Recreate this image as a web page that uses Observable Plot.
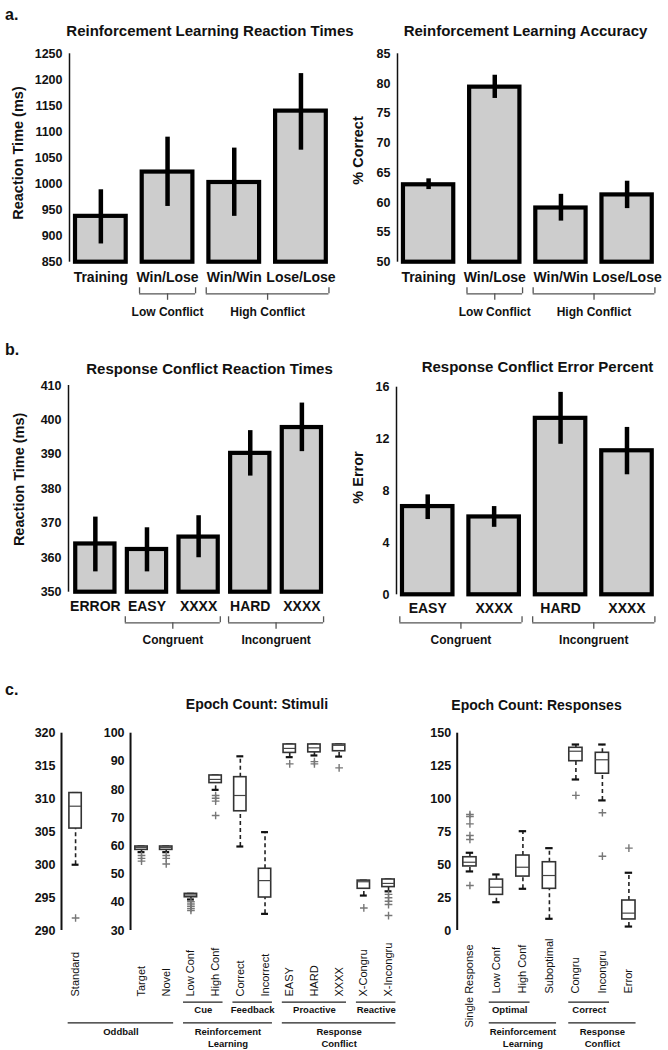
<!DOCTYPE html>
<html><head><meta charset="utf-8">
<script src="https://cdn.jsdelivr.net/npm/d3@7"></script>
<script src="https://cdn.jsdelivr.net/npm/@observablehq/plot@0.6"></script>
<style>
body{margin:0;background:#fff;}
#wrap{position:relative;width:668px;height:1050px;overflow:hidden;font-family:"Liberation Sans",Arial,sans-serif;color:#111;}
#wrap svg{position:absolute;left:0;top:0;}
.t{position:absolute;font-weight:bold;white-space:nowrap;transform:translate(-50%,-50%);line-height:1;}
.l{position:absolute;font-weight:bold;white-space:nowrap;transform:translate(0,-50%);line-height:1;font-size:16px;}
</style></head><body><div id="wrap"></div>
<script>
// ---------- DATA ----------
// a. Reinforcement learning
const rlCats = ["Training", "Win/Lose", "Win/Win", "Lose/Lose"];
const rtMean = [938, 1023, 1003, 1140];
const rtLo = [885, 957, 938, 1065];
const rtHi = [989, 1090, 1069, 1212];
const rtTicks = [850, 900, 950, 1000, 1050, 1100, 1150, 1200, 1250];
const accMean = [63.0, 79.4, 59.1, 61.3];
const accLo = [62.2, 77.5, 56.9, 59.0];
const accHi = [64.0, 81.4, 61.4, 63.6];
const accTicks = [50, 55, 60, 65, 70, 75, 80, 85];
const rlGroupNames = ["Low Conflict", "High Conflict"];
const rlGroupFirst = ["Win/Lose", "Win/Win"];
const rlGroupLast = ["Win/Lose", "Lose/Lose"];

// b. Response conflict
const rcCats = ["ERROR", "EASY", "XXXX", "HARD", "XXXX"];
const rcMean = [364.0, 362.4, 366.0, 390.3, 397.8];
const rcLo = [355.9, 355.9, 360.0, 383.7, 390.8];
const rcHi = [371.8, 368.7, 372.2, 396.9, 404.9];
const rcTicks = [350, 360, 370, 380, 390, 400, 410];
const rcGroupFirst = [1, 3];
const rcGroupLast = [2, 4];
const epCats = ["EASY", "XXXX", "HARD", "XXXX"];
const epMean = [6.8, 6.0, 13.6, 11.1];
const epLo = [5.8, 5.2, 11.6, 9.25];
const epHi = [7.7, 6.8, 15.6, 12.9];
const epTicks = [0, 4, 8, 12, 16];
const epGroupFirst = [0, 2];
const epGroupLast = [1, 3];
const confGroupNames = ["Congruent", "Incongruent"];

// c. Epoch counts: stimuli (Standard on its own 290-320 axis)
const stimCats = ["Standard", "Target", "Novel", "Low Conf", "High Conf", "Correct", "Incorrect", "EASY", "HARD", "XXXX", "X-Congru", "X-Incongru"];
const stimQ1  = [305.5, 58.6, 58.6, 41.8, 82.3, 72.3, 41.7, 93.0, 93.2, 93.6, 44.8, 45.4];
const stimMed = [308.9, 59.5, 59.5, 42.6, 83.6, 77.9, 47.7, 94.6, 94.8, 95.7, 47.3, 46.7];
const stimQ3  = [310.9, 59.8, 59.8, 43.0, 85.0, 84.4, 51.9, 96.0, 96.0, 96.0, 47.7, 48.1];
const stimLo  = [300.0, 57.8, 57.8, 41.0, 79.9, 59.8, 35.9, 91.5, 92.1, 91.7, 42.4, 43.9];
const stimHi  = [310.9, 59.8, 59.8, 43.0, 85.0, 91.8, 64.9, 96.0, 96.0, 96.0, 47.7, 48.1];
const stimOut = [[291.9], [56.6, 55.6, 54.6], [56.6, 55.6, 53.6], [40.2, 39.4, 38.6, 37.8, 37.1], [77.9, 76.9, 75.9, 70.8], [], [], [89.1], [89.9, 89.1], [87.7], [38.0], [42.8, 41.6, 40.4, 39.2, 35.3]];
const stdTicks = [290, 295, 300, 305, 310, 315, 320];
const stimTicks = [30, 40, 50, 60, 70, 80, 90, 100];
const stimG1Names = ["Cue", "Feedback", "Proactive", "Reactive"];
const stimG1First = ["Low Conf", "Correct", "EASY", "X-Congru"];
const stimG1Last = ["High Conf", "Incorrect", "XXXX", "X-Incongru"];
const stimG2Names = ["Oddball", "Reinforcement\nLearning", "Response\nConflict"];
const stimG2First = ["Standard", "Low Conf", "EASY"];
const stimG2Last = ["Novel", "Incorrect", "X-Incongru"];

// c. Epoch counts: responses
const respCats = ["Single Response", "Low Conf", "High Conf", "Suboptimal", "Congru", "Incongru", "Error"];
const respQ1  = [48.7, 27.1, 41.0, 31.7, 128.7, 119.2, 8.4];
const respMed = [51.9, 32.9, 48.1, 41.8, 136.3, 129.8, 13.2];
const respQ3  = [55.7, 38.7, 57.0, 51.9, 138.9, 135.1, 22.8];
const respLo  = [44.9, 21.5, 31.7, 8.9, 114.8, 98.9, 3.0];
const respHi  = [59.1, 42.6, 75.5, 62.6, 141.4, 141.4, 43.9];
const respOut = [[88.2, 86.7, 81.1, 72.2, 69.2, 34.2], [], [], [], [102.7], [89.5, 56.5], [62.6]];
const respTicks = [0, 25, 50, 75, 100, 125, 150];
const respG1Names = ["Optimal", "Correct"];
const respG1First = ["Low Conf", "Congru"];
const respG1Last = ["High Conf", "Incongru"];
const respG2Names = ["Reinforcement\nLearning", "Response\nConflict"];
const respG2First = ["Low Conf", "Congru"];
const respG2Last = ["Suboptimal", "Error"];

// ---------- LAYOUT ----------
const W = 668, H = 1050;
const FONT = '"Liberation Sans", Arial, sans-serif';
const wrap = document.getElementById("wrap");
const baseStyle = {background: "transparent", overflow: "visible", fontFamily: FONT, color: "#111"};

function html(cls, text, x, y, size) {
  const d = document.createElement("div");
  d.className = cls; d.textContent = text;
  d.style.left = x + "px"; d.style.top = y + "px";
  if (size) d.style.fontSize = size + "px";
  wrap.appendChild(d);
}

function barPanel(o) {
  const n = o.cats.length;
  const idx = d3.range(n);
  const rows = idx.map(i => ({i, m: o.mean[i], lo: o.lo[i], hi: o.hi[i]}));
  const ymin = o.ticks[0], ymax = o.ticks[o.ticks.length - 1];
  const groups = o.gNames.map((g, k) => ({g, a: o.gFirst[k] - 0.42, b: o.gLast[k] + 0.42}));
  const ends = groups.flatMap(d => [d.a, d.b]);
  const bs = {stroke: "#555", strokeWidth: 1.3};
  return Plot.plot({
    width: W, height: H,
    marginLeft: o.left, marginRight: W - o.right, marginTop: o.top, marginBottom: H - o.bottom,
    x: {domain: [-o.padL, n - 0.5]},
    y: {domain: [ymin, ymax]},
    style: baseStyle,
    marks: [
      Plot.rect(rows, {x1: d => d.i - 0.38, x2: d => d.i + 0.38, y1: ymin, y2: "m", fill: "#cdcdcd", stroke: "#000", strokeWidth: 4.2}),
      Plot.ruleX(rows, {x: "i", y1: "lo", y2: "hi", stroke: "#000", strokeWidth: 4.5}),
      Plot.ruleX([-o.padL], {y1: ymin, y2: ymax, stroke: "#111", strokeWidth: 1.5}),
      Plot.axisY({ticks: o.ticks, tickFormat: d => String(d), tickSize: 0, tickPadding: 7, fontSize: 12.5, fontWeight: "bold", label: null}),
      Plot.axisX({ticks: idx, tickFormat: i => o.cats[i], tickSize: 0, tickPadding: o.xPad, fontSize: 14, fontWeight: "bold", label: null}),
      Plot.text([o.ylabel], {frameAnchor: "left", textAnchor: "middle", rotate: -90, dx: o.yLabDx, dy: o.yLabDy, fontSize: 14.5, fontWeight: "bold"}),
      Plot.ruleY(groups, {y: () => ymin, x1: "a", x2: "b", dy: o.bY, ...bs}),
      Plot.ruleX(ends, {x: d => d, y1: ymin, y2: ymin, insetBottom: 6, dy: o.bY, ...bs}),
      Plot.ruleX(groups, {x: d => (d.a + d.b) / 2, y1: ymin, y2: ymin, insetTop: 6.5, dy: o.bY, ...bs}),
      Plot.text(groups, {x: d => (d.a + d.b) / 2, y: () => ymin, text: "g", dy: o.bText, fontSize: 12, fontWeight: "bold"})
    ]
  });
}

function boxPanel(o) {
  const f = o.f;
  const rows = o.cats.map((c, i) => ({x: o.xs[i], q1: f(o.q1[i], i), med: f(o.med[i], i), q3: f(o.q3[i], i), lo: f(o.lo[i], i), hi: f(o.hi[i], i)}));
  const outRows = o.cats.flatMap((c, i) => o.outs[i].map(v => ({x: o.xs[i], v: f(v, i)})));
  const hw = 0.25, cw = 0.14;
  const ymin = o.ymin, ymax = o.ymax;
  const pos = name => o.xs[o.cats.indexOf(name)];
  const mk = g => g.names.map((name, k) => ({name, a: pos(g.first[k]) - o.ext, b: pos(g.last[k]) + o.ext}));
  const g1 = mk(o.g1), g2 = mk(o.g2);
  const labels = o.cats.map((c, i) => ({c, x: o.xs[i]}));
  const lab = {x: "x", y: () => ymin, text: "c", rotate: -90, textAnchor: "start", fontSize: 11};
  const axisMarks = o.axes.flatMap(a => [
    Plot.ruleX([a.x], {y1: ymin, y2: ymax, stroke: "#111", strokeWidth: 2}),
    Plot.text(a.ticks, {x: a.x, y: a.map, text: d => String(d), textAnchor: "end", dx: -6, fontSize: 12.5, fontWeight: "bold"})
  ]);
  return Plot.plot({
    width: W, height: H,
    marginLeft: o.left, marginRight: W - o.right, marginTop: o.top, marginBottom: H - o.bottom,
    x: {domain: o.domain, axis: null},
    y: {domain: [ymin, ymax], axis: null},
    style: baseStyle,
    marks: [
      ...axisMarks,
      Plot.ruleX(rows.filter(d => d.hi > d.q3), {x: "x", y1: "q3", y2: "hi", stroke: "#222", strokeWidth: 1.6, strokeDasharray: "4,3"}),
      Plot.ruleX(rows.filter(d => d.lo < d.q1), {x: "x", y1: "lo", y2: "q1", stroke: "#222", strokeWidth: 1.6, strokeDasharray: "4,3"}),
      Plot.ruleY(rows, {y: "hi", x1: d => d.x - cw, x2: d => d.x + cw, stroke: "#111", strokeWidth: 2.2}),
      Plot.ruleY(rows, {y: "lo", x1: d => d.x - cw, x2: d => d.x + cw, stroke: "#111", strokeWidth: 2.2}),
      Plot.rect(rows, {x1: d => d.x - hw, x2: d => d.x + hw, y1: "q1", y2: "q3", fill: "white", stroke: "#333", strokeWidth: 1.6}),
      Plot.ruleY(rows, {y: "med", x1: d => d.x - hw, x2: d => d.x + hw, stroke: "#444", strokeWidth: 1.2}),
      Plot.dot(outRows, {x: "x", y: "v", symbol: "plus", r: 2.6, stroke: "#777", strokeWidth: 1.4}),
      Plot.text(labels, {...lab, filter: d => d.c !== "Single Response", dy: o.labDy}),
      Plot.text(labels, {...lab, filter: d => d.c === "Single Response", dy: o.labDyLong}),
      Plot.ruleY(g1, {y: () => ymin, x1: "a", x2: "b", dy: 71.7, stroke: "#222", strokeWidth: 1.2}),
      Plot.text(g1, {x: d => (d.a + d.b) / 2, y: () => ymin, text: "name", dy: 79, fontSize: 9.5, fontWeight: "bold"}),
      Plot.ruleY(g2, {y: () => ymin, x1: "a", x2: "b", dy: 92.3, stroke: "#222", strokeWidth: 1.2}),
      Plot.text(g2, {x: d => (d.a + d.b) / 2, y: () => ymin, text: "name", dy: 95.5, lineAnchor: "top", lineHeight: 1.3, fontSize: 9.5, fontWeight: "bold"})
    ]
  });
}

// ---------- PANELS ----------
const add = svg => wrap.appendChild(svg);

add(barPanel({cats: rlCats, mean: rtMean, lo: rtLo, hi: rtHi, ticks: rtTicks,
  left: 69, right: 333.8, top: 53.3, bottom: 261.7, padL: 0.47, xPad: 10,
  ylabel: "Reaction Time (ms)", yLabDx: -51, yLabDy: -5,
  gNames: rlGroupNames, gFirst: rlGroupFirst.map(c => rlCats.indexOf(c)), gLast: rlGroupLast.map(c => rlCats.indexOf(c)),
  bY: 31.6, bText: 50.3}));

add(barPanel({cats: rlCats, mean: accMean, lo: accLo, hi: accHi, ticks: accTicks,
  left: 397, right: 659.7, top: 53.3, bottom: 261.7, padL: 0.47, xPad: 10,
  ylabel: "% Correct", yLabDx: -39, yLabDy: -7.5,
  gNames: rlGroupNames, gFirst: rlGroupFirst.map(c => rlCats.indexOf(c)), gLast: rlGroupLast.map(c => rlCats.indexOf(c)),
  bY: 31.6, bText: 50.3}));

add(barPanel({cats: rcCats, mean: rcMean, lo: rcLo, hi: rcHi, ticks: rcTicks,
  left: 68, right: 327.2, top: 385, bottom: 591.7, padL: 0.52, xPad: 9.3,
  ylabel: "Reaction Time (ms)", yLabDx: -49, yLabDy: -9.5,
  gNames: confGroupNames, gFirst: rcGroupFirst, gLast: rcGroupLast,
  bY: 30.6, bText: 48.3}));

add(barPanel({cats: epCats, mean: epMean, lo: epLo, hi: epHi, ticks: epTicks,
  left: 396, right: 659.7, top: 386.7, bottom: 594.3, padL: 0.47, xPad: 8.2,
  ylabel: "% Error", yLabDx: -38, yLabDy: -13.5,
  gNames: confGroupNames, gFirst: epGroupFirst, gLast: epGroupLast,
  bY: 28, bText: 45.7}));

// stimuli: Standard sits on its own axis left of the shared 30-100 axis
const stdAxisX = -3.24, stdBoxX = -2.67, mainAxisX = -0.445;
const stdMap = d3.scaleLinear([290, 320], [30, 100]);
const stimXs = stimCats.map((c, i) => i === 0 ? stdBoxX : i - 1);
add(boxPanel({cats: stimCats, xs: stimXs, q1: stimQ1, med: stimMed, q3: stimQ3, lo: stimLo, hi: stimHi, outs: stimOut,
  f: (v, i) => i === 0 ? stdMap(v) : v, ymin: 30, ymax: 100,
  left: 61, right: 402.85, top: 732.7, bottom: 930, domain: [stdAxisX, 10.6], ext: 0.3,
  axes: [{x: stdAxisX, ticks: stdTicks, map: d => stdMap(d)}, {x: mainAxisX, ticks: stimTicks, map: d => d}],
  g1: {names: stimG1Names, first: stimG1First, last: stimG1Last},
  g2: {names: stimG2Names, first: stimG2First, last: stimG2Last},
  labDy: 66, labDyLong: 97}));

add(boxPanel({cats: respCats, xs: respCats.map((c, i) => i), q1: respQ1, med: respMed, q3: respQ3, lo: respLo, hi: respHi, outs: respOut,
  f: v => v, ymin: 0, ymax: 150,
  left: 456.7, right: 644.3, top: 732.7, bottom: 930, domain: [-0.48, 6.6], ext: 0.27,
  axes: [{x: -0.48, ticks: respTicks, map: d => d}],
  g1: {names: respG1Names, first: respG1First, last: respG1Last},
  g2: {names: respG2Names, first: respG2First, last: respG2Last},
  labDy: 63, labDyLong: 97}));

// ---------- TITLES ----------
html("l", "a.", 5, 14.5);
html("l", "b.", 5, 350);
html("l", "c.", 5, 690);
html("t", "Reinforcement Learning Reaction Times", 210, 30, 15);
html("t", "Reinforcement Learning Accuracy", 525.5, 30, 15);
html("t", "Response Conflict Reaction Times", 209.5, 367.5, 15);
html("t", "Response Conflict Error Percent", 537.5, 366, 15);
html("t", "Epoch Count: Stimuli", 257, 704, 14);
html("t", "Epoch Count: Responses", 536.5, 705, 14);
</script></body></html>
